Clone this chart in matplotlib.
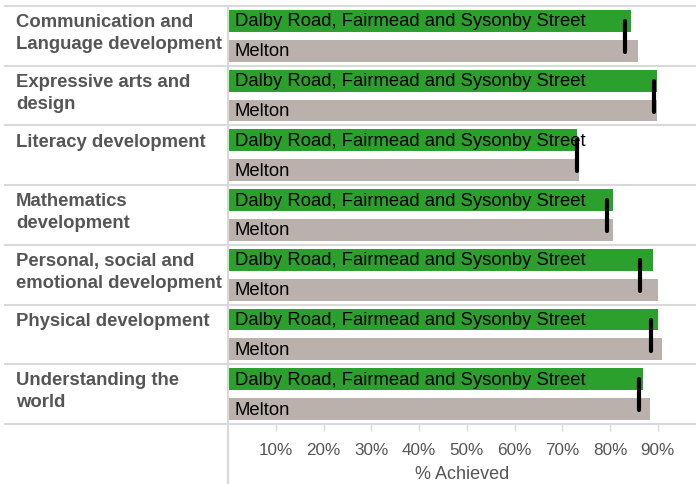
import matplotlib
matplotlib.use("Agg")
import matplotlib.pyplot as plt

categories = [
    "Communication and\nLanguage development",
    "Expressive arts and\ndesign",
    "Literacy development",
    "Mathematics\ndevelopment",
    "Personal, social and\nemotional development",
    "Physical development",
    "Understanding the\nworld",
]
series_names = ["Dalby Road, Fairmead and Sysonby Street", "Melton"]
school_values = [84.4, 89.8, 73.0, 80.6, 88.9, 90.0, 86.9]
melton_values = [85.8, 89.8, 73.5, 80.6, 90.0, 90.9, 88.4]
reference_values = [83.1, 89.1, 73.0, 79.3, 86.3, 88.6, 86.1]
tick_values = [10, 20, 30, 40, 50, 60, 70, 80, 90]
tick_labels = ["10%", "20%", "30%", "40%", "50%", "60%", "70%", "80%", "90%"]
x_label = "% Achieved"

plt.rcParams["font.family"] = ["Liberation Sans", "DejaVu Sans"]

W, H = 696, 485
fig = plt.figure(figsize=(W / 100, H / 100), dpi=100)
ax_left = 228 / W
ax_top = 7 / H
ax_bottom = 425 / H
ax = fig.add_axes([ax_left, 1 - ax_bottom, 1 - ax_left, ax_bottom - ax_top])

green = "#2ca02c"
grey = "#bab0ac"
line_col = "#d9d9d9"

n = len(categories)
bar_h = 22 / 60
label_x = (16 - 228) / (W - 228)
for i in range(n):
    ax.barh(i + 0.25, school_values[i], height=bar_h, color=green, left=0)
    ax.barh(i + 0.75, melton_values[i], height=bar_h, color=grey, left=0)
    ax.annotate(series_names[0], xy=(0, i + 0.25), xytext=(5, 0),
                textcoords="offset points", va="center", ha="left",
                fontsize=13.3, color="black")
    ax.annotate(series_names[1], xy=(0, i + 0.75), xytext=(5, 0),
                textcoords="offset points", va="center", ha="left",
                fontsize=13.3, color="black")
    ax.plot([reference_values[i], reference_values[i]], [i + 0.25, i + 0.77],
            color="black", linewidth=3, solid_capstyle="round", zorder=5)
    ax.text(label_x, i + 0.12, categories[i], transform=ax.get_yaxis_transform(),
            ha="left", va="top", fontsize=13.3, fontweight="bold",
            color="#555555", linespacing=1.38)

ax.set_xlim(0, (W - 227.2) / 4.784)
ax.set_ylim(n, 0)

# horizontal separators
x0_axes = (5 - 228) / (W - 228)
for i in range(n + 1):
    ax.plot([x0_axes, 1], [i, i], transform=ax.get_yaxis_transform(),
            color=line_col, linewidth=1.5, clip_on=False, zorder=0)

for s in ["top", "right", "bottom"]:
    ax.spines[s].set_visible(False)
ax.spines["left"].set_color(line_col)
ax.spines["left"].set_linewidth(1.5)
ax.plot([0, 0], [n, n + 1], color=line_col, linewidth=1.5,
        clip_on=False, zorder=0)

ax.set_yticks([])
ax.set_xticks(tick_values)
ax.set_xticklabels(tick_labels)
ax.xaxis.set_ticks_position("bottom")
ax.tick_params(axis="x", direction="out", length=5, width=1, color=line_col,
               labelsize=12.3, labelcolor="#555555", pad=8)
ax.set_xlabel(x_label, fontsize=13, color="#555555", labelpad=6)

fig.savefig("out.png", dpi=100)
